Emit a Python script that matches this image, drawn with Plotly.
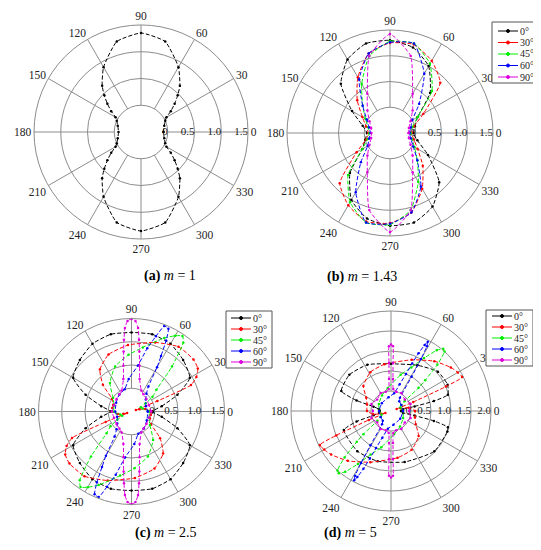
import plotly.graph_objects as go

# --- Ticks
ANGLE_TICKS = [0, 30, 60, 90, 120, 150, 180, 210, 240, 270, 300, 330]
R_TICKS_ABC = [0, 0.5, 1.0, 1.5]
R_TICKS_D = [0, 0.5, 1.0, 1.5, 2.0]
ORIENT = ["0°", "30°", "45°", "60°", "90°"]
COLORS = ["#000000", "#ff0000", "#00ee00", "#0000ff", "#dd00dd"]

# --- (a) m = 1
theta_a = [0, 15, 25, 30, 35, 40, 45, 50, 60, 75, 90, 105, 120, 130, 135, 140, 145, 150, 155, 165, 180,
           195, 205, 210, 215, 220, 225, 230, 240, 255, 270, 285, 300, 310, 315, 320, 325, 330, 335, 345, 360]
r_a = [-0.08, -0.05, 0.0, 0.05, 0.18, 0.32, 0.47, 0.63, 0.90, 1.25, 1.35, 1.25, 0.90, 0.63, 0.47, 0.32, 0.18, 0.05, 0.0, -0.05, -0.08,
       -0.05, 0.0, 0.05, 0.18, 0.32, 0.47, 0.63, 0.90, 1.25, 1.35, 1.25, 0.90, 0.63, 0.47, 0.32, 0.18, 0.05, 0.0, -0.05, -0.08]

# --- (b) m = 1.43
theta_b = [0, 15, 30, 45, 60, 75, 90, 105, 120, 135, 150, 165, 180,
           195, 210, 225, 240, 255, 270, 285, 300, 315, 330, 345, 360]
r_b0 = [-0.05, 0.0, 0.12, 0.6, 1.0, 1.22, 1.3, 1.3, 1.15, 0.85, 0.35, 0.05, -0.05,
        0.0, 0.12, 0.6, 1.0, 1.22, 1.3, 1.3, 1.15, 0.85, 0.35, 0.05, -0.05]
r_b30 = [-0.08, -0.02, 0.25, 0.88, 1.12, 1.28, 1.25, 1.1, 0.75, 0.4, 0.12, -0.02, -0.08,
         -0.02, 0.25, 0.88, 1.12, 1.28, 1.25, 1.1, 0.75, 0.4, 0.12, -0.02, -0.08]
r_b45 = [-0.1, -0.05, 0.12, 0.65, 1.05, 1.3, 1.28, 1.05, 0.6, 0.25, 0.05, -0.06, -0.1,
         -0.05, 0.12, 0.65, 1.05, 1.3, 1.28, 1.05, 0.6, 0.25, 0.05, -0.06, -0.1]
r_b60 = [-0.12, -0.08, 0.0, 0.3, 0.83, 1.3, 1.26, 1.1, 0.7, 0.25, 0.02, -0.08, -0.12,
         -0.08, 0.0, 0.3, 0.83, 1.3, 1.26, 1.1, 0.7, 0.25, 0.02, -0.08, -0.12]
r_b90 = [-0.14, -0.12, -0.04, 0.12, 0.38, 1.05, 1.42, 1.05, 0.38, 0.12, -0.04, -0.12, -0.14,
         -0.12, -0.04, 0.12, 0.38, 1.05, 1.42, 1.05, 0.38, 0.12, -0.04, -0.12, -0.14]

# --- (c) m = 2.5
theta_c0 = [0, 10, 20, 30, 45, 60, 75, 90, 105, 120, 135, 150, 160, 170, 180,
            190, 200, 210, 225, 240, 255, 270, 285, 300, 315, 330, 340, 350, 360]
r_c0 = [-0.05, 0.16, 0.55, 0.95, 1.07, 1.18, 1.22, 1.2, 1.22, 1.18, 1.07, 0.95, 0.55, 0.16, -0.05,
        0.16, 0.55, 0.95, 1.07, 1.18, 1.22, 1.2, 1.22, 1.18, 1.07, 0.95, 0.55, 0.16, -0.05]
theta_c30 = [0, 10, 15, 20, 22, 24, 28, 33, 40, 54, 71, 93, 112, 127, 137, 147, 160, 170,
             180, 190, 195, 200, 202, 204, 208, 213, 220, 234, 251, 273, 292, 307, 317, 327, 340, 350, 360]
r_c30 = [-0.08, -0.2, -0.32, -0.4, 0.1, 0.9, 1.08, 1.2, 1.24, 1.22, 1.07, 0.93, 0.82, 0.63, 0.34, 0.0, -0.08, -0.08,
         -0.08, -0.2, -0.32, -0.4, 0.1, 0.9, 1.08, 1.2, 1.24, 1.22, 1.07, 0.93, 0.82, 0.63, 0.34, 0.0, -0.08, -0.08, -0.08]
theta_c45 = [0, 15, 25, 30, 35, 41, 48, 53, 56, 60, 66, 80, 93, 110, 127, 144, 160,
             180, 195, 205, 210, 215, 221, 228, 233, 236, 240, 246, 260, 273, 290, 307, 324, 340, 360]
r_c45 = [-0.12, -0.25, -0.28, -0.15, 0.05, 0.21, 0.8, 1.35, 1.46, 1.38, 1.23, 0.9, 0.72, 0.53, 0.27, -0.01, -0.1,
         -0.12, -0.25, -0.28, -0.15, 0.05, 0.21, 0.8, 1.35, 1.46, 1.38, 1.23, 0.9, 0.72, 0.53, 0.27, -0.01, -0.1, -0.12]
theta_c60 = [0, 20, 40, 50, 56, 60, 62, 64, 66, 69, 72, 76, 82, 95, 107, 126, 150,
             180, 200, 220, 230, 236, 240, 242, 244, 246, 249, 252, 256, 262, 275, 287, 306, 330, 360]
r_c60 = [-0.15, -0.17, -0.1, 0.0, 0.15, 0.6, 0.85, 1.2, 1.45, 1.47, 1.2, 0.9, 0.5, 0.2, 0.0, -0.05, -0.12,
         -0.15, -0.17, -0.1, 0.0, 0.15, 0.6, 0.85, 1.2, 1.45, 1.47, 1.2, 0.9, 0.5, 0.2, 0.0, -0.05, -0.12, -0.15]
theta_c90 = [0, 20, 40, 55, 65, 76, 80, 82.5, 84, 85.5, 87.5, 90, 92.5, 94.5, 96, 97.5, 100, 104, 115, 125, 140, 160,
             180, 200, 220, 235, 245, 256, 260, 262.5, 264, 265.5, 267.5, 270, 272.5, 274.5, 276, 277.5, 280, 284, 295, 305, 320, 340, 360]
r_c90 = [-0.08, -0.1, -0.08, -0.05, 0.0, 0.22, 0.5, 0.8, 1.05, 1.3, 1.45, 1.49, 1.45, 1.3, 1.05, 0.8, 0.5, 0.22, 0.0, -0.05, -0.08, -0.1,
         -0.08, -0.1, -0.08, -0.05, 0.0, 0.22, 0.5, 0.8, 1.05, 1.3, 1.45, 1.49, 1.45, 1.3, 1.05, 0.8, 0.5, 0.22, 0.0, -0.05, -0.08, -0.1, -0.08]

# --- (d) m = 5
theta_d0 = [0, 8, 11, 13, 16, 25, 40, 60, 90, 117, 139, 158, 163, 166, 172,
            180, 188, 194, 197, 202, 230, 255, 285, 317, 340, 344, 347, 349, 352, 360]
r_d0 = [-0.25, -0.2, 0.1, 0.6, 0.98, 1.06, 1.03, 0.82, 0.68, 0.8, 0.88, 0.84, 0.4, -0.05, -0.2,
        -0.22, -0.2, -0.05, 0.4, 0.77, 0.81, 0.8, 0.82, 0.98, 1.0, 0.98, 0.6, 0.1, -0.2, -0.25]
theta_d30 = [0, 10, 16, 20, 22, 24, 25.5, 30, 36, 49, 68, 98, 118, 138, 152, 165,
             180, 190, 196, 200, 202, 204, 205.5, 210, 216, 229, 248, 278, 298, 318, 332, 345, 360]
r_d30 = [0.1, -0.05, -0.25, -0.35, 0.1, 1.0, 1.47, 1.43, 1.35, 1.15, 0.88, 0.68, 0.6, 0.43, 0.2, 0.12,
         0.1, -0.05, -0.25, -0.35, 0.1, 1.0, 1.47, 1.43, 1.35, 1.15, 0.88, 0.68, 0.6, 0.43, 0.2, 0.12, 0.1]
theta_d45 = [0, 20, 30, 36, 40, 42, 45, 48, 50, 53, 58, 65, 75, 98, 120, 150,
             180, 200, 210, 216, 220, 222, 225, 228, 230, 233, 238, 245, 255, 278, 300, 330, 360]
r_d45 = [-0.2, -0.25, -0.2, -0.08, 0.4, 0.65, 1.14, 1.5, 1.53, 1.4, 1.06, 0.7, 0.44, 0.08, -0.05, -0.15,
         -0.2, -0.25, -0.2, -0.08, 0.4, 0.65, 1.14, 1.5, 1.53, 1.4, 1.06, 0.7, 0.44, 0.08, -0.05, -0.15, -0.2]
theta_d60 = [0, 30, 50, 56, 59, 60, 61, 62, 63, 64.5, 66, 68, 72, 80, 100, 140,
             180, 210, 230, 236, 239, 240, 241, 242, 243, 244.5, 246, 248, 252, 260, 280, 320, 360]
r_d60 = [-0.2, -0.2, -0.18, -0.1, 0.5, 1.0, 1.35, 1.46, 1.35, 1.1, 0.8, 0.5, 0.2, -0.05, -0.15, -0.2,
         -0.2, -0.2, -0.18, -0.1, 0.5, 1.0, 1.35, 1.46, 1.35, 1.1, 0.8, 0.5, 0.2, -0.05, -0.15, -0.2, -0.2]
theta_d90 = [0, 20, 40, 60, 75, 84, 86.4, 87.6, 88.2, 90, 91.8, 92.4, 93.6, 96, 105, 120, 140, 160,
             180, 200, 220, 240, 255, 264, 266.4, 267.6, 268.2, 270, 271.8, 272.4, 273.6, 276, 285, 300, 320, 340, 360]
r_d90 = [-0.05, 0.02, -0.05, 0.02, 0.0, 0.05, 0.3, 0.7, 1.12, 1.16, 1.12, 0.7, 0.3, 0.05, 0.0, 0.02, -0.05, 0.02,
         -0.05, 0.02, -0.05, 0.02, 0.0, 0.05, 0.3, 0.7, 1.12, 1.16, 1.12, 0.7, 0.3, 0.05, 0.0, 0.02, -0.05, 0.02, -0.05]

FONT = "Liberation Serif"
W, H = 541, 550
GRID = "#8c8c8c"


def px(x):
    return x / W


def py(y):
    return 1 - y / H


def dom(cx, cy, rad):
    # pixel circle -> paper domain
    return dict(x=[px(cx - rad), px(cx + rad)], y=[py(cy + rad), py(cy - rad)])


def polar_layout(d, r_ticks):
    return dict(
        domain=d,
        bgcolor="white",
        radialaxis=dict(range=[-0.5, r_ticks[-1]], tickmode="array", tickvals=r_ticks[:-1],
                        showticklabels=False, ticks="", showline=False,
                        showgrid=True, gridcolor=GRID, gridwidth=1),
        angularaxis=dict(tickmode="array", tickvals=ANGLE_TICKS, ticktext=[str(a) for a in ANGLE_TICKS],
                         showgrid=False, ticks="", showline=True, linecolor=GRID, linewidth=1,
                         direction="counterclockwise", rotation=0,
                         tickfont=dict(family=FONT, size=11.5, color="#222")),
    )


fig = go.Figure()


def add_grid(sub, r_ticks):
    # radial spokes from the 0 circle to the rim
    th, rr = [], []
    for a in ANGLE_TICKS:
        th += [a, a, None]
        rr += [0, r_ticks[-1], None]
    fig.add_trace(go.Scatterpolar(theta=th, r=rr, mode="lines", subplot=sub, showlegend=False,
                                  line=dict(color=GRID, width=1), hoverinfo="skip"))
    fig.add_trace(go.Scatterpolar(theta=[0] * len(r_ticks), r=r_ticks, mode="text", subplot=sub,
                                  text=[("%g" % v if v == 0 else "%.1f" % v) for v in r_ticks],
                                  textposition="middle left", cliponaxis=False, showlegend=False,
                                  textfont=dict(family=FONT, size=11, color="#222"), hoverinfo="skip"))


def add_curve(sub, th, rr, i):
    fig.add_trace(go.Scatterpolar(
        theta=th, r=rr, mode="lines+markers", subplot=sub, name=ORIENT[i], showlegend=False,
        line=dict(color=COLORS[i], width=1, dash="4px,2px", shape="spline", smoothing=0.5),
        marker=dict(color=COLORS[i], size=2.5),
    ))


# small boxed legend, drawn with shapes so it stays as compact as the original
def add_legend(x0, y0, w, h, row0, step, lx0, llen):
    fig.add_shape(type="rect", xref="paper", yref="paper", x0=px(x0), x1=px(x0 + w), y0=py(y0 + h), y1=py(y0),
                  line=dict(color="#555", width=1), fillcolor="white", layer="above")
    for k, (lab, col) in enumerate(zip(ORIENT, COLORS)):
        yy = y0 + row0 + k * step
        fig.add_shape(type="line", xref="paper", yref="paper", x0=px(lx0), x1=px(lx0 + llen),
                      y0=py(yy), y1=py(yy), line=dict(color=col, width=1), layer="above")
        cx = lx0 + llen / 2
        fig.add_shape(type="circle", xref="paper", yref="paper", x0=px(cx - 1.5), x1=px(cx + 1.5),
                      y0=py(yy + 1.5), y1=py(yy - 1.5), line=dict(color=col, width=1), fillcolor=col, layer="above")
        fig.add_annotation(text=lab, x=px(lx0 + llen + 1), y=py(yy), xref="paper", yref="paper",
                           xanchor="left", yanchor="middle", showarrow=False, borderpad=0,
                           font=dict(family=FONT, size=10, color="#222"))


add_grid("polar", R_TICKS_ABC)
add_curve("polar", theta_a, r_a, 0)

add_grid("polar2", R_TICKS_ABC)
for i, rr in enumerate([r_b0, r_b30, r_b45, r_b60, r_b90]):
    add_curve("polar2", theta_b, rr, i)

add_grid("polar3", R_TICKS_ABC)
for i, (th, rr) in enumerate([(theta_c0, r_c0), (theta_c30, r_c30), (theta_c45, r_c45),
                              (theta_c60, r_c60), (theta_c90, r_c90)]):
    add_curve("polar3", th, rr, i)

add_grid("polar4", R_TICKS_D)
for i, (th, rr) in enumerate([(theta_d0, r_d0), (theta_d30, r_d30), (theta_d45, r_d45),
                              (theta_d60, r_d60), (theta_d90, r_d90)]):
    add_curve("polar4", th, rr, i)

add_legend(484, 14, 49, 61, 9, 11.5, 490, 20)
add_legend(218, 303, 46, 57, 7, 11, 223, 20)
add_legend(478, 302, 47, 56, 6, 11, 484, 20)

fig.update_layout(
    width=W, height=H, margin=dict(l=0, r=0, t=0, b=0),
    paper_bgcolor="white", plot_bgcolor="white", showlegend=False,
    polar=polar_layout(dom(133, 124, 107), R_TICKS_ABC),
    polar2=polar_layout(dom(382, 125, 103), R_TICKS_ABC),
    polar3=polar_layout(dom(123.5, 403.5, 93), R_TICKS_ABC),
    polar4=polar_layout(dom(383, 403, 100), R_TICKS_D),
)

captions = [("<b>(a)</b> <i>m</i> = 1", 134, 268), ("<b>(b)</b> <i>m</i> = 1.43", 391, 269),
            ("<b>(c)</b> <i>m</i> = 2.5", 125, 535), ("<b>(d)</b> <i>m</i> = 5", 371, 535)]
for txt, x, y in captions:
    fig.add_annotation(text=txt, x=px(x), y=py(y), xref="paper", yref="paper",
                       showarrow=False, font=dict(family=FONT, size=14, color="black"))

fig.write_html("out.html")
